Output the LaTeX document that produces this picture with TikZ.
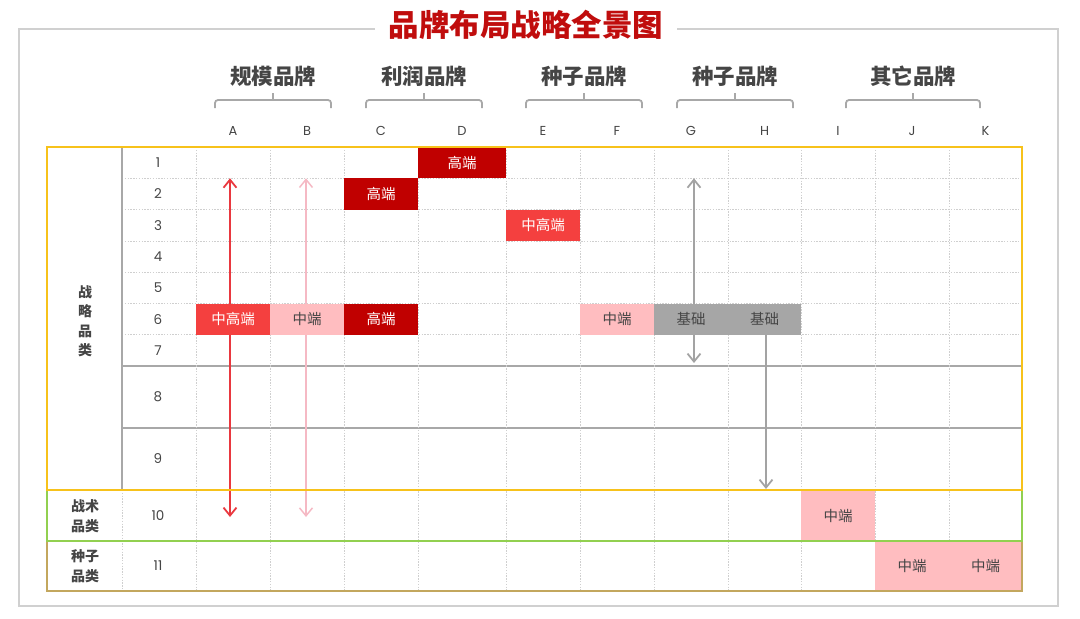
\documentclass[tikz,border=0pt]{standalone}
\usepackage{fontspec}
\newfontfamily\cjk{Noto Sans CJK SC}
\newfontfamily\latn{Poppins}
\usetikzlibrary{arrows.meta}
\definecolor{titlered}{HTML}{C00D0D}
\definecolor{darkred}{HTML}{C00000}
\definecolor{midred}{HTML}{F4403F}
\definecolor{pinkc}{HTML}{FFBDC0}
\definecolor{grayblk}{HTML}{A6A6A6}
\definecolor{txtgray}{HTML}{454545}
\definecolor{framegray}{HTML}{D0D0D0}
\definecolor{gridgray}{HTML}{CFCFCF}
\definecolor{solidgray}{HTML}{A8A8A8}
\definecolor{ylw}{HTML}{F7C21B}
\definecolor{grn}{HTML}{92D050}
\definecolor{tan}{HTML}{C3A75E}
\definecolor{arrred}{HTML}{E9383F}
\definecolor{arrpink}{HTML}{F5B9C4}
\definecolor{arrgray}{HTML}{A3A3A3}
\begin{document}
\begin{tikzpicture}[x=1pt,y=-1pt,
  gridline/.style={draw=gridgray,line width=0.7pt,dash pattern=on 1.4pt off 1.4pt},
  solidline/.style={draw=solidgray,line width=1.2pt},
  bracestyle/.style={draw=solidgray,line width=1.8pt,rounded corners=3pt},
  grouplbl/.style={font=\cjk\bfseries\fontsize{21.5}{23}\selectfont,text=txtgray,inner sep=0pt},
  collbl/.style={font=\latn\fontsize{13}{15}\selectfont,text=txtgray,inner sep=0pt},
  rowlbl/.style={font=\latn\fontsize{13.5}{15}\selectfont,text=txtgray,inner sep=0pt},
  catlbl/.style={font=\cjk\bfseries\fontsize{14}{19.5}\selectfont,text=txtgray,align=center,inner sep=0pt},
  cell/.style={minimum width=74pt,minimum height=31.3pt,inner sep=0pt,font=\cjk\fontsize{14.5}{16}\selectfont},
  hi/.style={cell,fill=darkred,text=white},
  mh/.style={cell,fill=midred,text=white},
  mid/.style={cell,fill=pinkc,text=txtgray},
  basic/.style={cell,fill=grayblk,text=txtgray},
  arr/.style={line width=1.8pt,arrows={Straight Barb[length=8pt,width=13pt]-Straight Barb[length=8pt,width=13pt]}},
  arrone/.style={line width=1.8pt,arrows={-Straight Barb[length=8pt,width=13pt]}}
]
\useasboundingbox (0,0) rectangle (1080,619);

% outer frame
\draw[framegray,line width=1.3pt] (19,29) rectangle (1058,606);
\node[fill=white,inner xsep=14pt,inner ysep=2pt,text=titlered,font=\cjk\bfseries\fontsize{30.5}{33}\selectfont] (title) at (526,25) {品牌布局战略全景图};

% group labels and braces
\node[grouplbl] (g1) at (273,76) {规模品牌};
\node[grouplbl] (g2) at (424,76) {利润品牌};
\node[grouplbl] (g3) at (584,76) {种子品牌};
\node[grouplbl] (g4) at (735,76) {种子品牌};
\node[grouplbl] (g5) at (913,76) {其它品牌};
\foreach \a/\b in {215/331,366/482,526/642,677/793,846/980}{
  \draw[bracestyle] (\a,108) -- (\a,100) -- (\b,100) -- (\b,108);
  \draw[draw=solidgray,line width=1.8pt] ({(\a+\b)/2},100) -- ({(\a+\b)/2},93);
}

% column letters
\foreach \n/\x in {A/233,B/307,C/381,D/462,E/543,F/617,G/691,H/764.5,I/838,J/912,K/985.5}{
  \node[collbl] (col\n) at (\x,131) {\n};
}

% grid
\foreach \y in {178.3,209.6,240.9,272.2,303.5,334.8}{
  \draw[gridline] (122,\y) -- (1022,\y);
}
\draw[solidline] (122,366) -- (1022,366);
\draw[solidline] (122,428) -- (1022,428);
\foreach \x in {196,270,344,418,506,580,654,728,801,875,949}{
  \draw[gridline] (\x,147) -- (\x,591);
}
\draw[solidline] (122,147) -- (122,490);
\draw[gridline] (122,490) -- (122,591);

% row numbers
\foreach \r/\y in {1/162.6,2/193.9,3/225.2,4/256.5,5/287.8,6/319.1,7/350.4,8/397,9/459,10/515.5,11/566}{
  \node[rowlbl] (row\r) at (158,\y) {\r};
}

% category labels
\node[catlbl] (cat1) at (85,321) {战\\略\\品\\类};
\node[catlbl] (cat2) at (85,516) {战术\\品类};
\node[catlbl] (cat3) at (85,566) {种子\\品类};

% arrow end points
\coordinate (ra) at (230,178.3);
\coordinate (rb) at (230,517);
\coordinate (pa) at (306,178.3);
\coordinate (pb) at (306,517);
\coordinate (ga) at (694,178.3);
\coordinate (gb) at (694,363);
\coordinate (hb) at (766,489);

\draw[arr,arrred] (ra) -- (rb);
\draw[arr,arrpink,line width=1.5pt] (pa) -- (pb);
\draw[arr,arrgray] (ga) -- (gb);

% blocks
\node[hi,minimum width=88pt] (d1) at (462,162.65) {高端};
\node[hi] (c2) at (381,193.95) {高端};
\node[mh] (e3) at (543,225.25) {中高端};
\node[mh] (a6) at (233,319.15) {中高端};
\node[mid] (b6) at (307,319.15) {中端};
\node[hi] (c6) at (381,319.15) {高端};
\node[mid] (f6) at (617,319.15) {中端};
\node[basic] (g6) at (691,319.15) {基础};
\node[basic,minimum width=73pt] (h6) at (764.5,319.15) {基础};
\node[mid,minimum height=51pt] (i10) at (838,515.5) {中端};
\node[mid,minimum height=50pt] (j11) at (912,566) {中端};
\node[mid,minimum height=50pt,minimum width=73pt] (k11) at (985.5,566) {中端};

\draw[arrone,arrgray] (h6.south -| hb) -- (hb);

% coloured frames
\draw[tan,line width=2.8pt] (47,541) rectangle (1022,591);
\draw[grn,line width=2.8pt] (47,490) rectangle (1022,541);
\draw[ylw,line width=2.8pt] (47,147) rectangle (1022,490);
\end{tikzpicture}
\end{document}
